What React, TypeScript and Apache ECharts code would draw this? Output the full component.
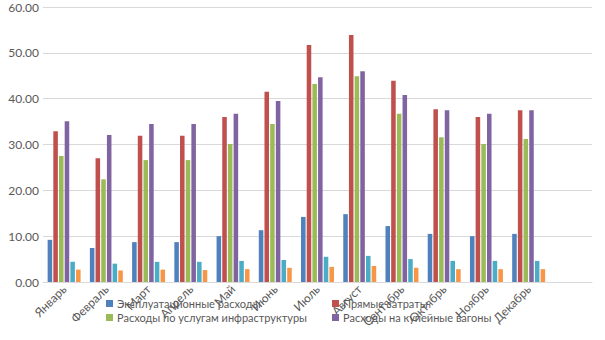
import React, { useEffect, useRef } from "react";
import * as echarts from "echarts";

const months = ["Январь", "Февраль", "Март", "Апрель", "Май", "Июнь", "Июль", "Август", "Сентябрь", "Октябрь", "Ноябрь", "Декабрь", ""];

const seriesNames = [
  "Эксплуатационные расходы",
  "Прямые затраты",
  "Расходы по услугам инфраструктуры",
  "Расходы на купейные вагоны",
  "Прочие расходы",
  "Накладные расходы",
];

const operating = [9.2, 7.4, 8.7, 8.7, 10.0, 11.3, 14.2, 14.8, 12.2, 10.5, 10.0, 10.5, null];
const direct = [32.9, 27.0, 31.9, 31.9, 36.0, 41.5, 51.7, 53.9, 43.9, 37.7, 36.0, 37.5, null];
const infrastructure = [27.5, 22.4, 26.6, 26.6, 30.1, 34.5, 43.2, 44.9, 36.7, 31.6, 30.1, 31.2, null];
const compartment = [35.1, 32.1, 34.5, 34.5, 36.7, 39.5, 44.7, 46.0, 40.8, 37.5, 36.7, 37.5, null];
const other = [4.4, 4.0, 4.4, 4.4, 4.6, 4.8, 5.5, 5.7, 5.0, 4.6, 4.6, 4.6, null];
const overhead = [2.7, 2.5, 2.7, 2.6, 2.8, 3.1, 3.3, 3.5, 3.1, 2.8, 2.8, 2.8, null];

const colors = ["#4f81bd", "#c0504d", "#9bbb59", "#8064a2", "#4bacc6", "#f79646"];

export default function App() {
  const ref = useRef<HTMLDivElement>(null);
  useEffect(() => {
    if (!ref.current) return;
    const chart = echarts.init(ref.current, null, { renderer: "svg" });
    const font = "Lato, 'Noto Sans', sans-serif";
    const values = [operating, direct, infrastructure, compartment, other, overhead];
    const legendBase = {
      orient: "horizontal" as const,
      itemWidth: 7,
      itemHeight: 7,
      itemGap: 4,
      icon: "rect",
      padding: 0,
      textStyle: { color: "#595959", fontSize: 11, fontFamily: font, padding: [0, 0, 0, -1] },
    };
    chart.setOption({
      animation: false,
      color: colors,
      textStyle: { fontFamily: font },
      grid: { left: 43, right: 13, top: 7, bottom: 58, containLabel: false },
      legend: [
        { ...legendBase, data: [seriesNames[0]], left: 106, top: 298 },
        { ...legendBase, data: [seriesNames[1]], left: 332, top: 298 },
        { ...legendBase, data: [seriesNames[2]], left: 106, top: 312 },
        { ...legendBase, data: [seriesNames[3]], left: 332, top: 312 },
      ],
      xAxis: {
        type: "category",
        data: months,
        axisLine: { lineStyle: { color: "#d9d9d9" } },
        axisTick: { show: false },
        axisLabel: {
          rotate: 45,
          interval: 0,
          color: "#595959",
          fontSize: 12,
          fontFamily: font,
          margin: 5,
        },
      },
      yAxis: {
        type: "value",
        min: 0,
        max: 60,
        interval: 10,
        axisLine: { show: false },
        axisTick: { show: false },
        splitLine: { lineStyle: { color: "#d9d9d9", width: 1 } },
        axisLabel: {
          color: "#595959",
          fontSize: 12,
          fontFamily: font,
          margin: 4,
          formatter: (v: number) => v.toFixed(2),
        },
      },
      series: seriesNames.map((name, i) => ({
        name,
        type: "bar",
        data: values[i],
        barCategoryGap: "22%",
        barGap: "25%",
        itemStyle: { color: colors[i] },
      })),
    });
    return () => chart.dispose();
  }, []);
  return <div ref={ref} style={{ position: "absolute", left: 0, top: 0, width: 605, height: 340 }} />;
}
